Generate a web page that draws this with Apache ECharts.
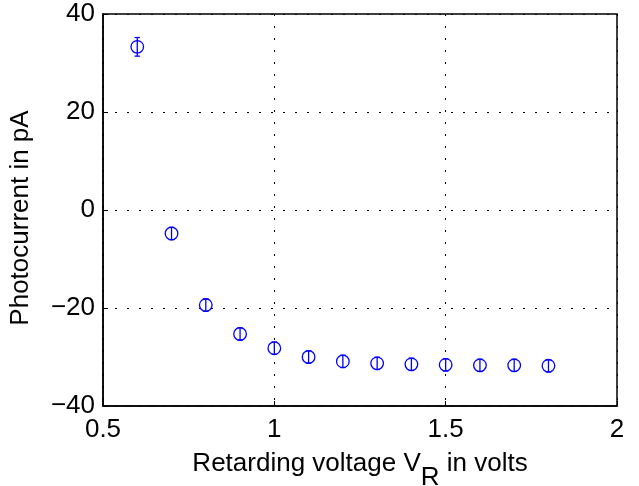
<!DOCTYPE html>
<html><head><meta charset="utf-8">
<script src="https://cdn.jsdelivr.net/npm/echarts@6/dist/echarts.min.js"></script>
<style>html,body{margin:0;padding:0;background:#fff}#c{width:639px;height:486px}</style>
</head><body><div id="c"></div>
<script>
const voltages = [0.6, 0.7, 0.8, 0.9, 1.0, 1.1, 1.2, 1.3, 1.4, 1.5, 1.6, 1.7, 1.8];
const currents = [33.3, -4.8, -19.4, -25.3, -28.2, -30.0, -30.9, -31.3, -31.5, -31.6, -31.7, -31.7, -31.8];
const errors   = [1.9, 1.25, 1.25, 1.25, 1.25, 1.25, 1.25, 1.25, 1.25, 1.25, 1.25, 1.25, 1.25];
const xTicks = [0.5, 1, 1.5, 2];
const yTicks = [-40, -20, 0, 20, 40];

const data = voltages.map((v, i) => [v, currents[i], errors[i]]);
const font = 'Liberation Sans, Arial, Helvetica, sans-serif';
const fmt = v => String(v).replace('-', '\u2212');
const chart = echarts.init(document.getElementById('c'), null, {renderer: 'canvas'});
const blue = '#0000ff';
const FS = 26;
chart.setOption({
  animation: false,
  backgroundColor: '#fff',
  grid: {left: 103, right: 22, top: 14, bottom: 80, containLabel: false, outerBoundsMode: 'none',
         show: true, borderColor: '#000', borderWidth: 1.5, backgroundColor: 'transparent'},
  xAxis: {
    type: 'value', min: xTicks[0], max: xTicks[xTicks.length - 1], interval: 0.5,
    axisLine: {show: true, onZero: false, lineStyle: {color: '#000', width: 1.5}},
    axisTick: {show: true, inside: true, length: 5, lineStyle: {color: '#000'}},
    axisLabel: {color: '#000', fontSize: FS, fontFamily: font, margin: 11, formatter: fmt},
    splitLine: {show: true, lineStyle: {color: '#000', type: [2, 10], dashOffset: -12, width: 1}},
    name: '{a|Retarding voltage V}{s|R}{a| in volts}',
    nameLocation: 'middle', nameGap: 45,
    nameTextStyle: {rich: {
      a: {fontSize: FS, fontFamily: font, color: '#000', padding: [0, 0, 14, 0]},
      s: {fontSize: FS, fontFamily: font, color: '#000', padding: [14, 0, 0, 0]}
    }}
  },
  yAxis: {
    type: 'value', min: yTicks[0], max: yTicks[yTicks.length - 1], interval: 20,
    axisLine: {show: true, onZero: false, lineStyle: {color: '#000', width: 1.5}},
    axisTick: {show: true, inside: true, length: 5, lineStyle: {color: '#000'}},
    axisLabel: {color: '#000', fontSize: FS, fontFamily: font, margin: 8, formatter: fmt},
    splitLine: {show: true, lineStyle: {color: '#000', type: [2, 10], dashOffset: -12, width: 1}},
    name: 'Photocurrent in pA', nameLocation: 'middle', nameGap: 69,
    nameTextStyle: {fontSize: FS, fontFamily: font, color: '#000', padding: [0, 16, 0, 0]}
  },
  series: [{
    type: 'custom',
    data: data,
    renderItem: function (params, api) {
      const x = api.value(0), y = api.value(1), e = api.value(2);
      const c = api.coord([x, y]);
      const top = api.coord([x, y + e]);
      const bot = api.coord([x, y - e]);
      const cap = 2.7;
      const st = {stroke: blue, lineWidth: 1.3, fill: null};
      return {type: 'group', children: [
        {type: 'line', shape: {x1: c[0], y1: top[1], x2: c[0], y2: bot[1]}, style: st},
        {type: 'line', shape: {x1: c[0] - cap, y1: top[1], x2: c[0] + cap, y2: top[1]}, style: st},
        {type: 'line', shape: {x1: c[0] - cap, y1: bot[1], x2: c[0] + cap, y2: bot[1]}, style: st},
        {type: 'circle', shape: {cx: c[0], cy: c[1], r: 6.3}, style: {stroke: blue, lineWidth: 1.3, fill: null}}
      ]};
    }
  }]
});
</script></body></html>
